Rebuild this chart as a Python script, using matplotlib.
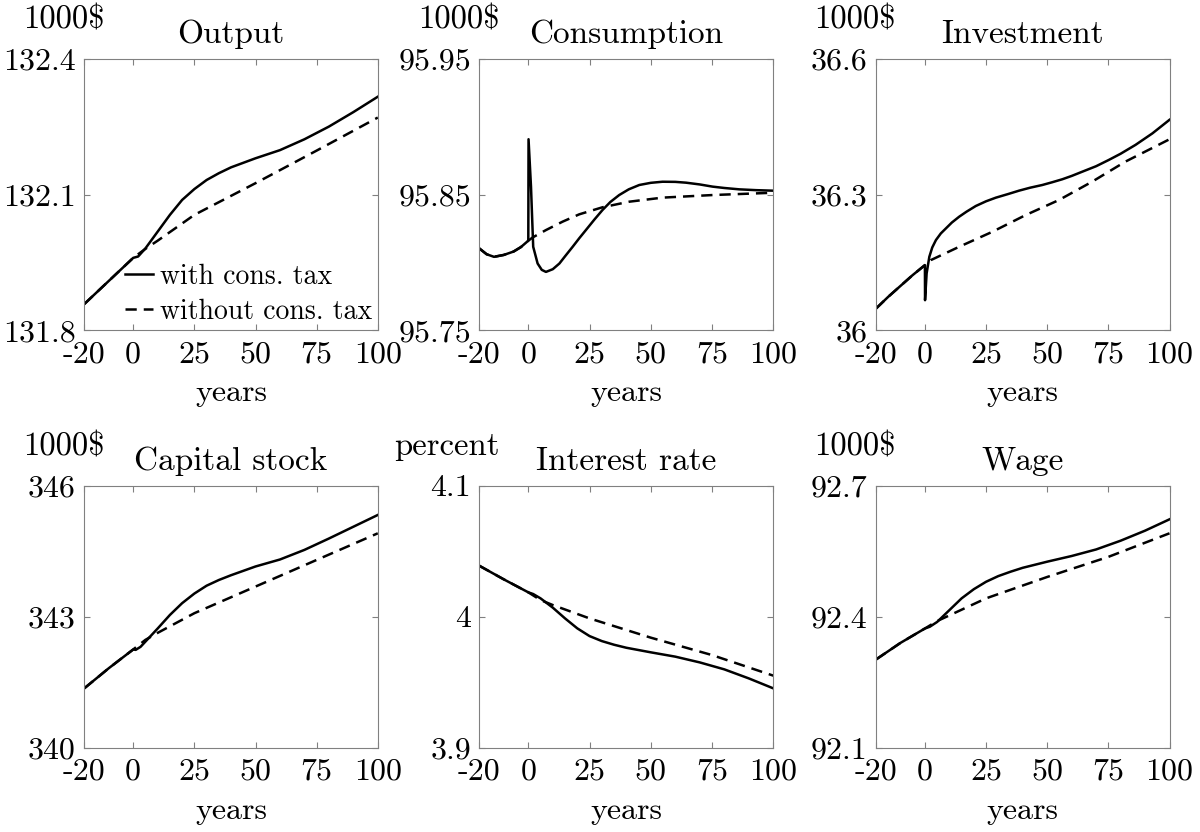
import matplotlib
matplotlib.use("Agg")
import matplotlib.pyplot as plt

plt.rcParams['font.family'] = 'serif'
plt.rcParams['font.serif'] = ['cmr10', 'DejaVu Serif']
plt.rcParams['axes.unicode_minus'] = False

years_ticks = [-20, 0, 25, 50, 75, 100]
years_tick_labels = ['-20', '0', '25', '50', '75', '100']

# Output (1000$)
out_x = [-20, -10, 0, 2, 5, 10, 15, 20, 25, 30, 35, 40, 50, 60, 70, 80, 90, 100]
out_tax = [131.858, 131.909, 131.960, 131.963, 131.981, 132.018, 132.055, 132.088, 132.112,
           132.132, 132.147, 132.160, 132.180, 132.198, 132.222, 132.250, 132.282, 132.316]
out_x0 = [-20, -10, 0, 5, 10, 25, 50, 75, 100]
out_notax = [131.858, 131.909, 131.960, 131.980, 131.998, 132.055, 132.125, 132.197, 132.270]

# Consumption (1000$)
con_x = [-20, -17, -14, -10, -6, -3, 0, 0.1, 1.1, 2.0, 3.8, 5.5, 7.2, 10, 12.7, 15, 18.1,
         20.8, 23.5, 27, 30.3, 33.5, 37.1, 41, 45.3, 50, 54.8, 60, 64.4, 70, 75.2, 80, 86.1,
         93, 100]
con_tax = [95.8103, 95.8060, 95.8041, 95.8055, 95.8080, 95.8113, 95.8160, 95.8907, 95.8558,
           95.8115, 95.7992, 95.7945, 95.7930, 95.7950, 95.7992, 95.8045, 95.8115, 95.8178,
           95.8238, 95.8316, 95.8386, 95.8445, 95.8496, 95.8538, 95.8570, 95.8586, 95.8594,
           95.8593, 95.8587, 95.8574, 95.8558, 95.8548, 95.8538, 95.8532, 95.8528]
con_x0 = [-20, -17, -14, -10, -6, -3, 0, 1.8, 7.2, 14, 20.8, 30.3, 41.2, 54.8, 75.2, 100]
con_notax = [95.8103, 95.8060, 95.8041, 95.8055, 95.8080, 95.8113, 95.8160, 95.8184, 95.8238,
             95.8300, 95.8354, 95.8406, 95.8447, 95.8477, 95.8496, 95.8513]

# Investment (1000$)
inv_x = [-20, -15, -10, -5, 0, 0.05, 0.7, 1.8, 3, 4.5, 6.5, 8.6, 11, 14, 17, 20.8, 25, 29,
         34, 38.5, 43, 48, 52, 56.2, 60, 64.4, 70, 75.2, 80, 86.1, 93, 100]
inv_tax = [36.048, 36.074, 36.098, 36.122, 36.144, 36.0665, 36.1256, 36.1623, 36.183,
           36.1993, 36.214, 36.2252, 36.238, 36.2509, 36.262, 36.2746, 36.285, 36.293, 36.301,
           36.3085, 36.315, 36.321, 36.327, 36.3337, 36.341, 36.3505, 36.3625, 36.3764,
           36.390, 36.4096, 36.435, 36.465]
inv_x0 = [-20, -15, -10, -5, 0, 2.4, 14, 27.6, 41.2, 54.8, 68.4, 82, 100]
inv_notax = [36.048, 36.074, 36.098, 36.122, 36.144, 36.155, 36.1845, 36.2177, 36.2546,
             36.2878, 36.3284, 36.3727, 36.422]

# Capital stock (1000$)
cap_x = [-20, -10, 0, 1, 3, 5, 10, 15, 20, 25, 30, 35, 40, 50, 60, 70, 80, 90, 100]
cap_tax = [341.36, 341.82, 342.25, 342.24, 342.31, 342.43, 342.73, 343.04, 343.31, 343.53,
           343.71, 343.84, 343.95, 344.15, 344.31, 344.53, 344.79, 345.06, 345.33]
cap_x0 = [-20, -10, 0, 5, 10, 25, 50, 75, 100]
cap_notax = [341.36, 341.82, 342.25, 342.47, 342.63, 343.08, 343.69, 344.30, 344.91]

# Interest rate (percent)
int_x = [-20, -10, 0, 2, 5, 10, 15, 20, 25, 30, 35, 40, 50, 60, 70, 80, 90, 100]
int_tax = [4.0389, 4.0285, 4.0186, 4.0173, 4.0140, 4.0069, 3.9987, 3.9911, 3.9852, 3.9814,
           3.9786, 3.9763, 3.9728, 3.9695, 3.9651, 3.9598, 3.9529, 3.9453]
int_x0 = [-20, -10, 0, 5, 10, 25, 50, 75, 100]
int_notax = [4.0389, 4.0285, 4.0186, 4.0127, 4.0089, 3.9987, 3.9840, 3.9707, 3.9550]

# Wage (1000$)
wag_x = [-20, -10, 0, 2, 5, 10, 15, 20, 25, 30, 35, 40, 50, 60, 70, 80, 90, 100]
wag_tax = [92.302, 92.340, 92.373, 92.377, 92.388, 92.415, 92.442, 92.463, 92.480, 92.493,
           92.503, 92.512, 92.526, 92.539, 92.554, 92.574, 92.597, 92.623]
wag_x0 = [-20, -10, 0, 5, 10, 25, 50, 75, 100]
wag_notax = [92.302, 92.340, 92.373, 92.390, 92.403, 92.442, 92.491, 92.537, 92.591]

panels = [
    ('Output', '1000$', out_x, out_tax, out_x0, out_notax, [131.8, 132.1, 132.4], ['131.8', '132.1', '132.4']),
    ('Consumption', '1000$', con_x, con_tax, con_x0, con_notax, [95.75, 95.85, 95.95], ['95.75', '95.85', '95.95']),
    ('Investment', '1000$', inv_x, inv_tax, inv_x0, inv_notax, [36.0, 36.3, 36.6], ['36', '36.3', '36.6']),
    ('Capital stock', '1000$', cap_x, cap_tax, cap_x0, cap_notax, [340, 343, 346], ['340', '343', '346']),
    ('Interest rate', 'percent', int_x, int_tax, int_x0, int_notax, [3.9, 4.0, 4.1], ['3.9', '4', '4.1']),
    ('Wage', '1000$', wag_x, wag_tax, wag_x0, wag_notax, [92.1, 92.4, 92.7], ['92.1', '92.4', '92.7']),
]

W, H = 1200, 832
lefts = [84.3, 479.3, 876]
widths = [293.5, 294, 293.5]
rows = [(58.7, 330.3), (485.7, 747.7)]

fig = plt.figure(figsize=(12, 8.32), dpi=100)

for i, (title, unit, x1, y1, x0, y0, yt, ytl) in enumerate(panels):
    r, c = divmod(i, 3)
    top, bot = rows[r]
    ax = fig.add_axes([lefts[c] / W, 1 - bot / H, widths[c] / W, (bot - top) / H])
    ax.plot(x0, y0, color='black', lw=1.8, dashes=(4.5, 2.8), label='without cons. tax')
    ax.plot(x1, y1, color='black', lw=1.8, label='with cons. tax')
    ax.set_xlim(-20, 100)
    ax.set_ylim(yt[0], yt[-1])
    ax.set_xticks(years_ticks)
    ax.set_xticklabels(years_tick_labels)
    ax.set_yticks(yt)
    ax.set_yticklabels(ytl)
    ax.tick_params(direction='in', length=4, width=0.8, color='#808080', top=True, right=True,
                   labelsize=23, pad=7.5)
    ax.tick_params(axis='y', pad=6)
    for s in ax.spines.values():
        s.set_color('#808080')
        s.set_linewidth(0.8)
    ax.set_title(title, fontsize=24, pad=11.5)
    ax.set_xlabel('years', fontsize=23, labelpad=8.5)
    ax.text(0.068, 1 + 39 / (bot - top), unit, transform=ax.transAxes, ha='right', va='center',
            fontsize=23.5)
    if i == 0:
        h, l = ax.get_legend_handles_labels()
        ax.legend(h[::-1], l[::-1], loc='lower right', frameon=False, fontsize=20,
                  handlelength=1.0, handletextpad=0.25, borderpad=0.1, borderaxespad=0.1,
                  labelspacing=0.3)

fig.savefig('out.png', dpi=100)
